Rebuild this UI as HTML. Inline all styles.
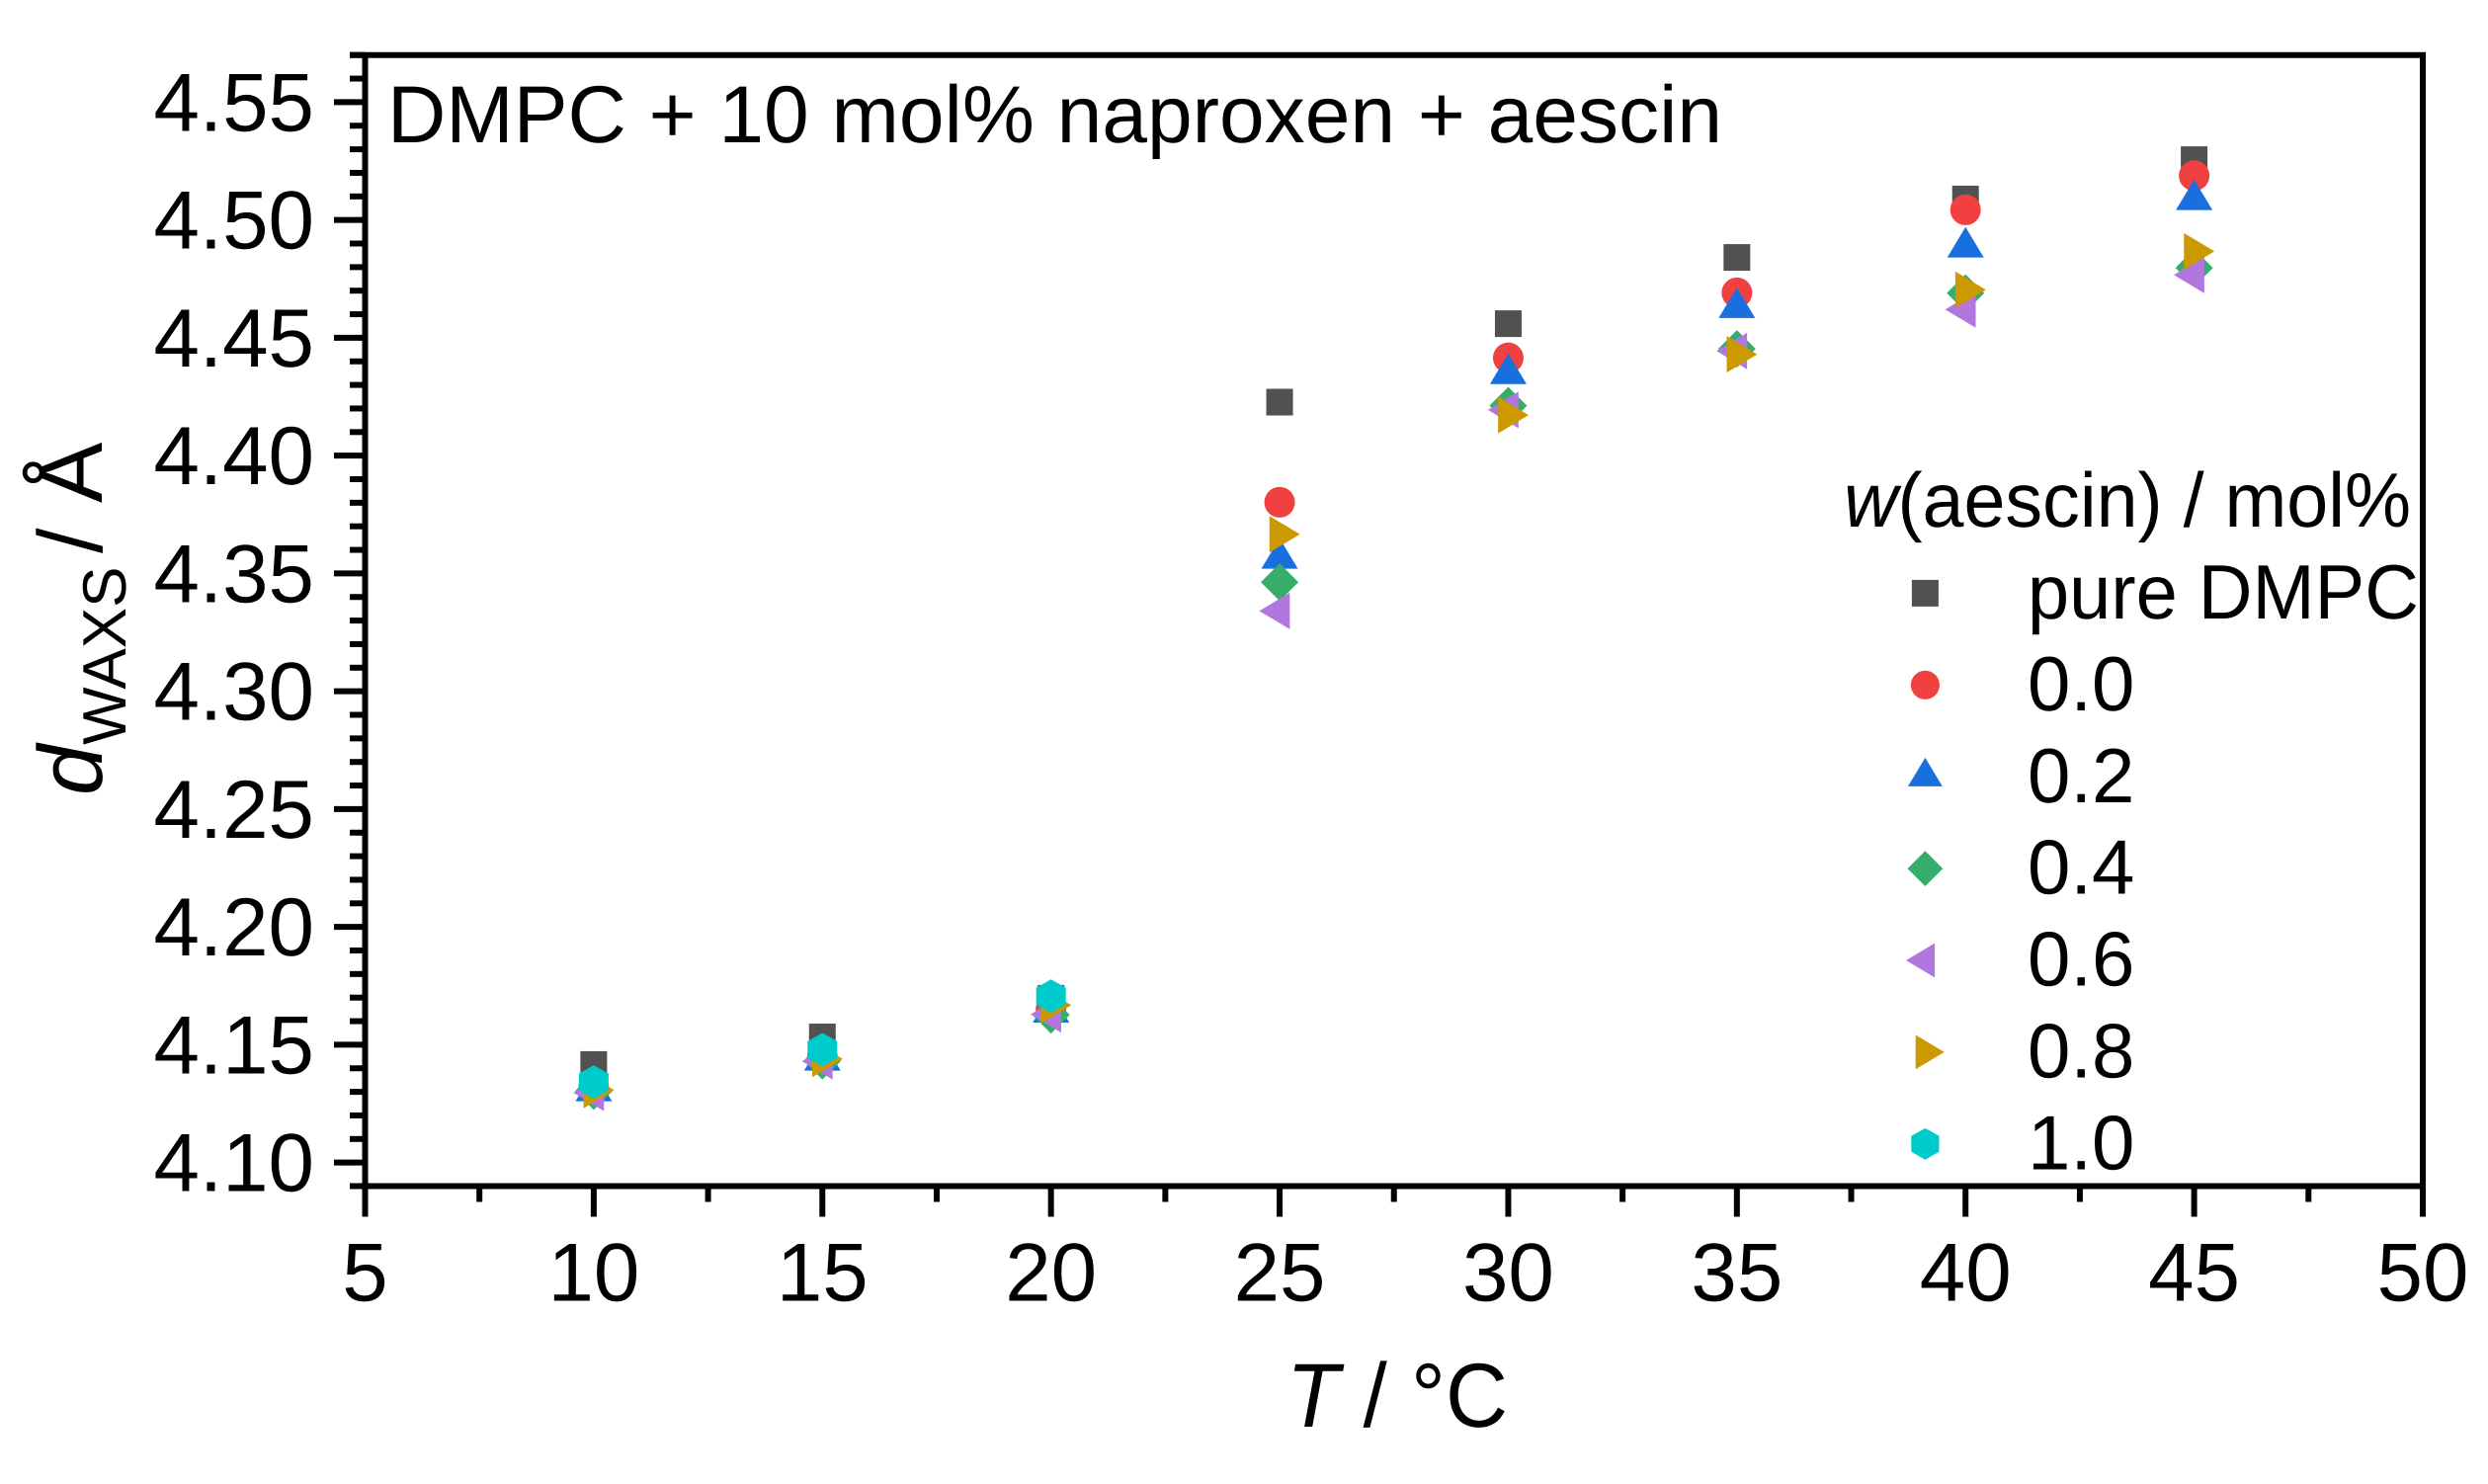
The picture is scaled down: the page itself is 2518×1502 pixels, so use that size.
<!DOCTYPE html>
<html lang="en">
<head>
<meta charset="utf-8">
<title>DMPC + 10 mol% naproxen + aescin</title>
<style>
html,body{margin:0;padding:0;background:#fff;}
svg{display:block;}
text{font-family:"Liberation Sans",Arial,sans-serif;fill:#000;text-rendering:geometricPrecision;}
</style>
</head>
<body>
<svg id="chart" xmlns="http://www.w3.org/2000/svg" width="2518" height="1502" viewBox="0 0 2518 1502">
  <rect x="0" y="0" width="2518" height="1502" fill="#ffffff"/>
  <g id="marks"></g>
  <g id="legend"></g>
  <g id="axes"></g>
  <text x="392" y="144" font-size="82" textLength="1351" lengthAdjust="spacingAndGlyphs">DMPC + 10 mol% naproxen + aescin</text>
  <text x="1866" y="533" font-size="78" textLength="574" lengthAdjust="spacingAndGlyphs"><tspan font-style="italic">w</tspan>(aescin) / mol%</text>
  <text x="1302" y="1444" font-size="92" textLength="224" lengthAdjust="spacingAndGlyphs"><tspan font-style="italic">T</tspan> / °C</text>
  <text transform="translate(103,805) rotate(-90)" font-size="92"><tspan font-style="italic">d</tspan><tspan font-size="62" dy="24">WAXS</tspan><tspan x="245" dy="-24">/</tspan><tspan x="296">Å</tspan></text>
</svg>
<script>
var temperatures = [10, 15, 20, 25, 30, 35, 40, 45];
var pureDmpc = [4.1416, 4.1533, 4.1697, 4.4227, 4.4560, 4.4841, 4.5089, 4.5256];
var aescin00 = [4.132, 4.145, 4.165, 4.3802, 4.4415, 4.4691, 4.5043, 4.5188];
var aescin02 = [4.1303, 4.1433, 4.1637, 4.3563, 4.4347, 4.4627, 4.4884, 4.5085];
var aescin04 = [4.1303, 4.1432, 4.1627, 4.3463, 4.4212, 4.4453, 4.4690, 4.4797];
var aescin06 = [4.1296, 4.1430, 4.1629, 4.3341, 4.4194, 4.4444, 4.4620, 4.4767];
var aescin08 = [4.1308, 4.1440, 4.1668, 4.3666, 4.4172, 4.4430, 4.4704, 4.4867];
var aescin10 = [4.1342, 4.1479, 4.1706];
var seriesLabels = ['pure DMPC', '0.0', '0.2', '0.4', '0.6', '0.8', '1.0'];
var seriesKeys = ['pure-dmpc', '0-0', '0-2', '0-4', '0-6', '0-8', '1-0'];
var seriesColors = ['#515151', '#F14040', '#1A6FDF', '#37AD6B', '#B177DE', '#CC9900', '#00CBCC'];
var seriesShapes = ['square', 'circle', 'up', 'diamond', 'left', 'right', 'hexagon'];
var seriesValues = [pureDmpc, aescin00, aescin02, aescin04, aescin06, aescin08, aescin10];
var xTickLabels = ['5', '10', '15', '20', '25', '30', '35', '40', '45', '50'];
var yTickLabels = ['4.10', '4.15', '4.20', '4.25', '4.30', '4.35', '4.40', '4.45', '4.50', '4.55'];
var xMinorValues = [7.5, 12.5, 17.5, 22.5, 27.5, 32.5, 37.5, 42.5, 47.5];
var yMinorValues = [4.09, 4.11, 4.12, 4.13, 4.14, 4.16, 4.17, 4.18, 4.19, 4.21, 4.22, 4.23, 4.24, 4.26, 4.27, 4.28, 4.29, 4.31, 4.32, 4.33, 4.34, 4.36, 4.37, 4.38, 4.39, 4.41, 4.42, 4.43, 4.44, 4.46, 4.47, 4.48, 4.49, 4.51, 4.52, 4.53, 4.54, 4.56, 4.57];

var plot = {left: 369.5, right: 2452, top: 55.7, bottom: 1200.5};
var xDomain = [5, 50];
var yDomain = [4.09, 4.57];
var NS = 'http://www.w3.org/2000/svg';

function sx(v) {
  return plot.left + (v - xDomain[0]) / (xDomain[1] - xDomain[0]) * (plot.right - plot.left);
}
function sy(v) {
  return plot.bottom - (v - yDomain[0]) / (yDomain[1] - yDomain[0]) * (plot.bottom - plot.top);
}
function make(tag, attrs, parent) {
  var el = document.createElementNS(NS, tag);
  for (var k in attrs) { el.setAttribute(k, attrs[k]); }
  parent.appendChild(el);
  return el;
}
function pts(cx, cy, list, k) {
  return list.map(function (p) { return (cx + p[0] * k).toFixed(2) + ',' + (cy + p[1] * k).toFixed(2); }).join(' ');
}
function drawMarker(shape, color, cx, cy, k, parent) {
  if (shape === 'square') {
    return make('rect', {x: cx - 13.5, y: cy - 13.5, width: 27, height: 27, fill: color}, parent);
  }
  if (shape === 'circle') {
    return make('circle', {cx: cx, cy: cy, r: 15.5 * k, fill: color}, parent);
  }
  var outline = {
    up: [[0, -20.6], [18.5, 10.3], [-18.5, 10.3]],
    diamond: [[0, -19], [19, 0], [0, 19], [-19, 0]],
    left: [[-20.6, 0], [10.3, -18.5], [10.3, 18.5]],
    right: [[20.6, 0], [-10.3, -18.5], [-10.3, 18.5]],
    hexagon: [[0, -17], [15, -8.5], [15, 8.5], [0, 17], [-15, 8.5], [-15, -8.5]]
  }[shape];
  return make('polygon', {points: pts(cx, cy, outline, k), fill: color}, parent);
}

var marks = document.getElementById('marks');
seriesValues.forEach(function (values, s) {
  var group = make('g', {}, marks);
  
  
  values.forEach(function (v, i) {
    var m = drawMarker(seriesShapes[s], seriesColors[s], sx(temperatures[i]), sy(v), 1, group);
    
    
  });
});

var legend = document.getElementById('legend');
seriesLabels.forEach(function (label, s) {
  var rowY = 600.4 + s * 92.9;
  var row = make('g', {}, legend);
  
  
  var m = drawMarker(seriesShapes[s], seriesColors[s], 1948.4, rowY, 0.94, row);
  
  
  var t = make('text', {x: 2052, y: rowY + 25.6, 'font-size': 78}, row);
  t.textContent = label;
  if (label.length > 3) {
    t.setAttribute('textLength', 396);
    t.setAttribute('lengthAdjust', 'spacingAndGlyphs');
  }
  
  
});

var axes = document.getElementById('axes');
var frame = make('path', {
  d: 'M' + plot.left + ' ' + (plot.bottom + 31) + 'V' + plot.top + 'M' + (plot.left - 15.5) + ' ' + plot.top + 'H' + (plot.right + 3) +
     'M' + plot.right + ' ' + plot.top + 'V' + (plot.bottom + 31) + 'M' + (plot.left - 15.5) + ' ' + plot.bottom + 'H' + plot.right,
  stroke: '#000', 'stroke-width': 6, fill: 'none'
}, axes);



xTickLabels.forEach(function (label) {
  var x = sx(parseFloat(label));
  var tick = make('line', {x1: x, x2: x, y1: plot.bottom, y2: plot.bottom + 31, stroke: '#000', 'stroke-width': 6}, axes);
  
  
  var t = make('text', {x: x, y: 1316.5, 'font-size': 83.5, 'text-anchor': 'middle'}, axes);
  t.textContent = label;
  
  
});
xMinorValues.forEach(function (v) {
  var x = sx(v);
  var tick = make('line', {x1: x, x2: x, y1: plot.bottom, y2: plot.bottom + 16, stroke: '#000', 'stroke-width': 6}, axes);
  
  
});
yTickLabels.forEach(function (label) {
  var y = sy(parseFloat(label));
  var tick = make('line', {x1: plot.left - 31.5, x2: plot.left, y1: y, y2: y, stroke: '#000', 'stroke-width': 6}, axes);
  
  
  var t = make('text', {x: 318, y: y + 29, 'font-size': 83.5, 'text-anchor': 'end'}, axes);
  t.textContent = label;
  
  
});
yMinorValues.forEach(function (v) {
  var y = sy(v);
  var tick = make('line', {x1: plot.left - 15.5, x2: plot.left, y1: y, y2: y, stroke: '#000', 'stroke-width': 6}, axes);
  
  
});
</script>
</body>
</html>
